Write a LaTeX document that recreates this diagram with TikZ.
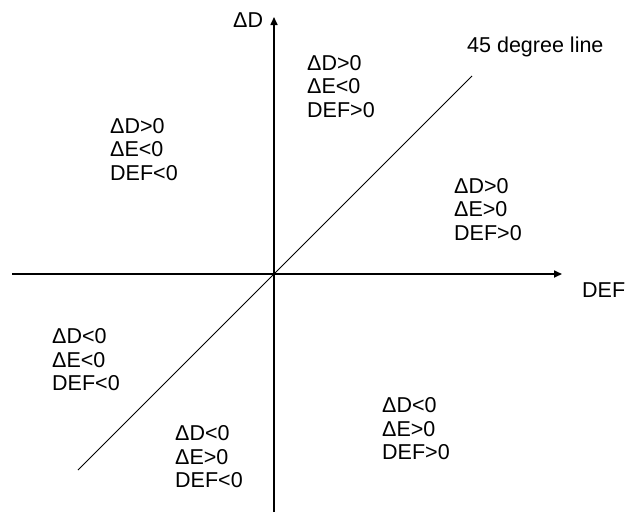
\documentclass[tikz,border=0pt]{standalone}
\usepackage{fontspec}
\setmainfont{Liberation Sans}
\usetikzlibrary{arrows.meta}
\begin{document}
\begin{tikzpicture}[x=1pt,y=-1pt,
  lbl/.style={anchor=base west,inner sep=0pt,font=\fontsize{21.5}{23.5}\selectfont,align=left},
  axis/.style={line width=1.6pt,-{Triangle[length=8pt,width=7pt]}},
  diag/.style={line width=0.9pt}]
\useasboundingbox (0,0) rectangle (626,512);
\coordinate (xl) at (12,274);
\coordinate (xr) at (562,274);
\coordinate (yb) at (274,512);
\coordinate (yt) at (274,17);
\coordinate (dl) at (78,470);
\coordinate (du) at (472,76);
\draw[axis] (xl) -- (xr);
\draw[axis] (yb) -- (yt);
\draw[diag] (dl) -- (du);
\node[lbl] (ylab) at (233,27.5) {ΔD};
\node[lbl] (xlab) at (582,297.5) {DEF};
\node[lbl] (dlab) at (467,52) {45 degree line};
\node[lbl] (qa) at (307,117) {ΔD>0\\ΔE<0\\DEF>0};
\node[lbl] (qb) at (110,180) {ΔD>0\\ΔE<0\\DEF<0};
\node[lbl] (qc) at (454,240) {ΔD>0\\ΔE>0\\DEF>0};
\node[lbl] (qd) at (52,390.5) {ΔD<0\\ΔE<0\\DEF<0};
\node[lbl] (qe) at (382,459.5) {ΔD<0\\ΔE>0\\DEF>0};
\node[lbl] (qf) at (175,487.5) {ΔD<0\\ΔE>0\\DEF<0};
\end{tikzpicture}
\end{document}
